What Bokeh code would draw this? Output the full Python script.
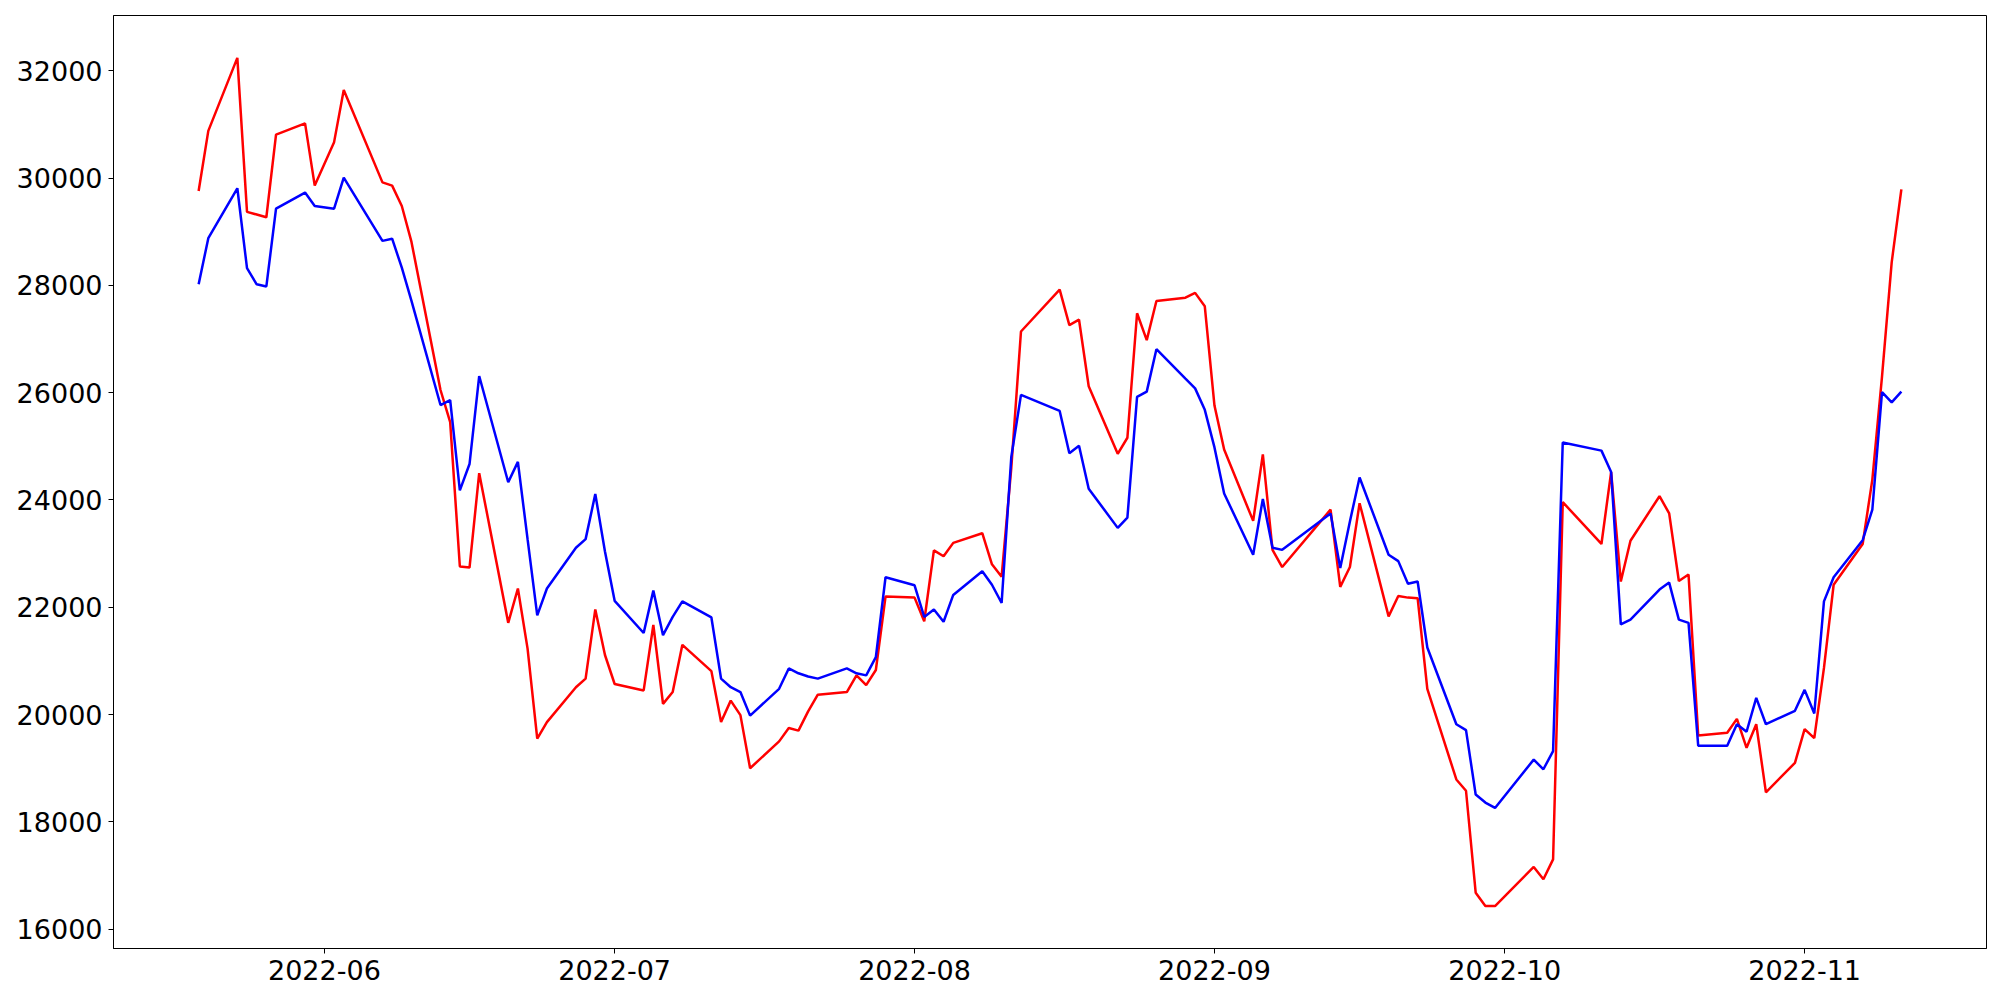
import pandas as pd
from bokeh.plotting import figure
from bokeh.models import FixedTicker, DatetimeTickFormatter, Range1d, ColumnDataSource
from bokeh.embed import file_html
from bokeh.resources import INLINE

dates = [
    "2022-05-19", "2022-05-20", "2022-05-23", "2022-05-24", "2022-05-25", "2022-05-26", "2022-05-27",
    "2022-05-30", "2022-05-31", "2022-06-02", "2022-06-03", "2022-06-07", "2022-06-08", "2022-06-09",
    "2022-06-10", "2022-06-13", "2022-06-14", "2022-06-15", "2022-06-16", "2022-06-17", "2022-06-20",
    "2022-06-21", "2022-06-22", "2022-06-23", "2022-06-24", "2022-06-27", "2022-06-28", "2022-06-29",
    "2022-06-30", "2022-07-01", "2022-07-04", "2022-07-05", "2022-07-06", "2022-07-07", "2022-07-08",
    "2022-07-11", "2022-07-12", "2022-07-13", "2022-07-14", "2022-07-15", "2022-07-18", "2022-07-19",
    "2022-07-20", "2022-07-21", "2022-07-22", "2022-07-25", "2022-07-26", "2022-07-27", "2022-07-28",
    "2022-07-29", "2022-08-01", "2022-08-02", "2022-08-03", "2022-08-04", "2022-08-05", "2022-08-08",
    "2022-08-09", "2022-08-10", "2022-08-11", "2022-08-12", "2022-08-16", "2022-08-17", "2022-08-18",
    "2022-08-19", "2022-08-22", "2022-08-23", "2022-08-24", "2022-08-25", "2022-08-26", "2022-08-29",
    "2022-08-30", "2022-08-31", "2022-09-01", "2022-09-02", "2022-09-05", "2022-09-06", "2022-09-07",
    "2022-09-08", "2022-09-13", "2022-09-14", "2022-09-15", "2022-09-16", "2022-09-19", "2022-09-20",
    "2022-09-21", "2022-09-22", "2022-09-23", "2022-09-26", "2022-09-27", "2022-09-28", "2022-09-29",
    "2022-09-30", "2022-10-04", "2022-10-05", "2022-10-06", "2022-10-07", "2022-10-11", "2022-10-12",
    "2022-10-13", "2022-10-14", "2022-10-17", "2022-10-18", "2022-10-19", "2022-10-20", "2022-10-21",
    "2022-10-24", "2022-10-25", "2022-10-26", "2022-10-27", "2022-10-28", "2022-10-31", "2022-11-01",
    "2022-11-02", "2022-11-03", "2022-11-04", "2022-11-07", "2022-11-08", "2022-11-09", "2022-11-10",
    "2022-11-11",
]

red_values = [
    29760, 30880, 32240, 29370, 29320, 29270, 30810,
    31020, 29860, 30670, 31640, 29920, 29860, 29480,
    28810, 26050, 25450, 22760, 22740, 24500, 21710,
    22350, 21230, 19550, 19860, 20510, 20670, 21960,
    21110, 20570, 20450, 21670, 20200, 20420, 21300,
    20810, 19860, 20260, 19990, 19000, 19500, 19750,
    19700, 20060, 20370, 20420, 20730, 20550, 20830,
    22200, 22180, 21740, 23060, 22950, 23200, 23380,
    22800, 22570, 24600, 27140, 27920, 27260, 27360,
    26120, 24860, 25160, 27480, 26980, 27710, 27770,
    27860, 27610, 25760, 24940, 23610, 24850, 23070,
    22750, 23820, 22380, 22750, 23940, 21830, 22210,
    22180, 22170, 20480, 18790, 18580, 16680, 16430,
    16430, 17160, 16930, 17300, 23960, 23180, 24520,
    22480, 23240, 24070, 23750, 22490, 22610, 19610,
    19660, 19920, 19380, 19820, 18550, 19100, 19730,
    19560, 20870, 22420, 23180, 24380, 26300, 28430,
    29790,
]

blue_values = [
    28020, 28880, 29810, 28320, 28020, 27980, 29430,
    29730, 29480, 29430, 30010, 28830, 28870, 28330,
    27710, 25770, 25860, 24180, 24670, 26310, 24330,
    24710, 23270, 21850, 22350, 23110, 23270, 24110,
    23040, 22120, 21520, 22310, 21480, 21820, 22110,
    21810, 20670, 20510, 20420, 19980, 20480, 20860,
    20770, 20710, 20670, 20860, 20770, 20730, 21070,
    22560, 22410, 21820, 21960, 21730, 22230, 22670,
    22420, 22080, 24800, 25960, 25660, 24870, 25010,
    24210, 23480, 23670, 25920, 26020, 26810, 26260,
    26080, 25680, 24980, 24120, 22980, 24020, 23110,
    23070, 23750, 22730, 23600, 24420, 22980, 22860,
    22440, 22480, 21250, 19820, 19710, 18510, 18360,
    18260, 19160, 18980, 19320, 25070, 24920, 24520,
    21680, 21770, 22330, 22460, 21770, 21710, 19420,
    19420, 19820, 19680, 20310, 19820, 20070, 20460,
    20020, 22110, 22560, 23250, 23820, 26010, 25820,
    26020,
]

x_tick_labels = ["2022-06", "2022-07", "2022-08", "2022-09", "2022-10", "2022-11"]
y_ticks = [16000, 18000, 20000, 22000, 24000, 26000, 28000, 30000, 32000]

x = pd.to_datetime(dates)
src = ColumnDataSource(dict(x=x, red=red_values, blue=blue_values))

x_ms = [t.value / 1e6 for t in x]
xspan = max(x_ms) - min(x_ms)
allv = red_values + blue_values
yspan = max(allv) - min(allv)

p = figure(
    width=1992, height=992,
    x_axis_type="datetime",
    output_backend="svg",
    toolbar_location=None,
    x_range=Range1d(min(x_ms) - 0.05 * xspan, max(x_ms) + 0.05 * xspan),
    y_range=Range1d(min(allv) - 0.05 * yspan, max(allv) + 0.05 * yspan),
    min_border_left=113, min_border_right=6, min_border_top=15, min_border_bottom=44,
)

p.line("x", "red", source=src, line_color="red", line_width=2.5)
p.line("x", "blue", source=src, line_color="blue", line_width=2.5)

xt = [pd.Timestamp(s + "-01").value / 1e6 for s in x_tick_labels]
p.xaxis.ticker = FixedTicker(ticks=xt)
fmt = "%Y-%m"
p.xaxis.formatter = DatetimeTickFormatter(
    milliseconds=fmt, seconds=fmt, minsec=fmt, minutes=fmt, hourmin=fmt, hours=fmt,
    days=fmt, months=fmt, years=fmt,
)
p.yaxis.ticker = FixedTicker(ticks=y_ticks)

p.xgrid.visible = False
p.ygrid.visible = False
p.outline_line_color = "black"
p.outline_line_width = 1
p.background_fill_color = "white"
p.border_fill_color = "white"

for ax in (p.xaxis[0], p.yaxis[0]):
    ax.axis_line_color = "black"
    ax.axis_line_width = 1
    ax.major_tick_line_color = "black"
    ax.major_tick_line_width = 1
    ax.major_tick_out = 5
    ax.major_tick_in = 0
    ax.minor_tick_line_color = None
    ax.major_label_text_font = "DejaVu Sans"
    ax.major_label_text_font_size = "27px"
    ax.major_label_text_color = "black"
    ax.major_label_standoff = 7

p.yaxis[0].major_label_standoff = 6
p.xaxis[0].major_label_standoff = 6

open("out.html", "w").write(file_html(p, INLINE))
